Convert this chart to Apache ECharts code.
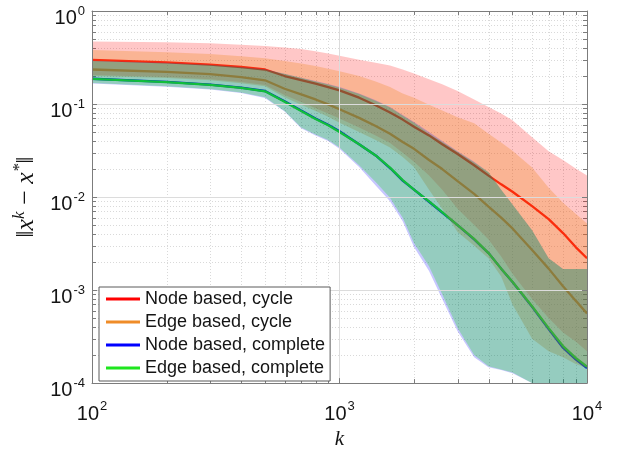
<!DOCTYPE html>
<html>
<head>
<meta charset="utf-8">
<script src="https://cdn.jsdelivr.net/npm/echarts@6/dist/echarts.min.js"></script>
<style>
  html, body { margin: 0; padding: 0; background: #fff; }
  #chart { width: 624px; height: 455px; }
</style>
</head>
<body>
<div id="chart"></div>
<script>
// iterations k (x axis)
const ks = [100, 200, 300, 400, 500, 600, 700, 800, 900, 1000, 1200, 1400, 1600, 1800, 2000, 2300, 2600, 3000, 3500, 4000, 4500, 5000, 6000, 7000, 8000, 9000, 10000];

// mean error curves
const nodeCycle    = [0.298, 0.28, 0.265, 0.25, 0.235, 0.2, 0.181, 0.166, 0.152, 0.14, 0.117, 0.097, 0.081, 0.068, 0.057, 0.046, 0.037, 0.029, 0.022, 0.017, 0.0137, 0.0114, 0.008, 0.0058, 0.0041, 0.0029, 0.0022];
const edgeCycle    = [0.235, 0.222, 0.21, 0.195, 0.18, 0.146, 0.127, 0.112, 0.099, 0.088, 0.071, 0.058, 0.048, 0.039, 0.033, 0.025, 0.02, 0.0148, 0.0108, 0.0079, 0.006, 0.0046, 0.0027, 0.0017, 0.0011, 0.00077, 0.00056];
const nodeComplete = [0.187, 0.173, 0.162, 0.15, 0.138, 0.107, 0.085, 0.07, 0.06, 0.051, 0.037, 0.028, 0.0205, 0.015, 0.012, 0.0089, 0.0068, 0.005, 0.0035, 0.0025, 0.0017, 0.00122, 0.00066, 0.00038, 0.00024, 0.00018, 0.000145];
const edgeComplete = [0.186, 0.172, 0.161, 0.149, 0.137, 0.106, 0.084, 0.069, 0.059, 0.05, 0.037, 0.028, 0.0207, 0.0152, 0.012, 0.009, 0.0069, 0.005, 0.00355, 0.0025, 0.0017, 0.00123, 0.00067, 0.00039, 0.00025, 0.000187, 0.00015];

// shaded ranges (low / high)
const nodeCycleLo    = [0.205, 0.195, 0.185, 0.173, 0.16, 0.125, 0.105, 0.09, 0.079, 0.07, 0.056, 0.046, 0.038, 0.03, 0.024, 0.017, 0.012, 0.0075, 0.005, 0.0035, 0.0023, 0.0015, 0.0008, 0.0005, 0.00035, 0.00028, 0.00022];
const nodeCycleHi    = [0.47, 0.46, 0.45, 0.435, 0.42, 0.405, 0.39, 0.37, 0.35, 0.33, 0.3, 0.278, 0.26, 0.235, 0.213, 0.185, 0.163, 0.138, 0.112, 0.093, 0.079, 0.067, 0.044, 0.031, 0.025, 0.0203, 0.017];
const edgeCycleLo    = [0.2, 0.19, 0.18, 0.167, 0.155, 0.118, 0.098, 0.084, 0.073, 0.063, 0.05, 0.041, 0.034, 0.027, 0.021, 0.012, 0.0075, 0.0042, 0.003, 0.0022, 0.0014, 0.0007, 0.0003, 0.00022, 0.00019, 0.00016, 0.000145];
const edgeCycleHi    = [0.38, 0.36, 0.345, 0.327, 0.31, 0.29, 0.272, 0.257, 0.24, 0.225, 0.2, 0.175, 0.152, 0.13, 0.117, 0.098, 0.085, 0.072, 0.062, 0.048, 0.0386, 0.0315, 0.0208, 0.0126, 0.0087, 0.0066, 0.0052];
const nodeCompleteLo = [0.166, 0.153, 0.143, 0.131, 0.116, 0.083, 0.055, 0.046, 0.04, 0.033, 0.021, 0.0133, 0.009, 0.0055, 0.0029, 0.0016, 0.0008, 0.00036, 0.00019, 0.000148, 0.000138, 0.000128, 0.0001, 0.00009, 0.000085, 0.00008, 0.00008];
const nodeCompleteHi = [0.292, 0.277, 0.264, 0.25, 0.237, 0.212, 0.192, 0.177, 0.164, 0.152, 0.13, 0.11, 0.093, 0.076, 0.064, 0.05, 0.04, 0.031, 0.024, 0.0185, 0.012, 0.0083, 0.0044, 0.0022, 0.00168, 0.00168, 0.00168];
const edgeCompleteLo = [0.168, 0.155, 0.145, 0.133, 0.118, 0.084, 0.056, 0.047, 0.041, 0.034, 0.022, 0.0145, 0.0098, 0.006, 0.0032, 0.0018, 0.0009, 0.00039, 0.0002, 0.000152, 0.00014, 0.00013, 0.0001, 0.00009, 0.000085, 0.00008, 0.00008];
const edgeCompleteHi = [0.29, 0.275, 0.262, 0.248, 0.235, 0.21, 0.19, 0.175, 0.162, 0.15, 0.128, 0.108, 0.092, 0.075, 0.063, 0.048, 0.039, 0.0305, 0.0235, 0.0185, 0.012, 0.0083, 0.0044, 0.0022, 0.00168, 0.00168, 0.00168];

// minor grid positions
const xMinor = [200, 300, 400, 500, 600, 700, 800, 900, 2000, 3000, 4000, 5000, 6000, 7000, 8000, 9000];
const yMinor = [2e-4, 3e-4, 4e-4, 5e-4, 6e-4, 7e-4, 8e-4, 9e-4, 2e-3, 3e-3, 4e-3, 5e-3, 6e-3, 7e-3, 8e-3, 9e-3,
                0.02, 0.03, 0.04, 0.05, 0.06, 0.07, 0.08, 0.09, 0.2, 0.3, 0.4, 0.5, 0.6, 0.7, 0.8, 0.9];

const SANS = 'Liberation Sans, Arial, Helvetica, sans-serif';
const SERIF = 'Liberation Serif, Times New Roman, serif';
const AXIS_COLOR = '#7c7c7c';
const TEXT_COLOR = '#141414';

const RED = '#ff0000', ORANGE = '#ef8c28', BLUE = '#0000ff', GREEN = '#1ee61e';

// flat bar legend icon (padded so it stays 3px thick inside a 34x20 box)
const LINE_ICON = 'path://M0,0L0.01,0M0,8.5L34,8.5L34,11.5L0,11.5ZM34,20L33.99,20';

const chart = echarts.init(document.getElementById('chart'));

const pow10 = v => '{b|10}{s|' + Math.round(Math.log10(v)) + '}';
const labelRich = {
    b: { fontSize: 20, fontFamily: SANS, color: TEXT_COLOR, lineHeight: 24, verticalAlign: 'bottom' },
    s: { fontSize: 13, fontFamily: SANS, color: TEXT_COLOR, lineHeight: 13, verticalAlign: 'top', padding: [0, 0, 0, 1] }
};

const pairs = (vals) => ks.map((k, i) => [k, vals[i]]);

function lineSeries(name, vals, color) {
    return {
        name: name,
        type: 'line',
        data: pairs(vals),
        symbol: 'none',
        z: 2,
        lineStyle: { width: 2.3, color: color },
        itemStyle: { color: color },
        clip: true
    };
}

function bandSeries(lo, hi, fill) {
    return {
        type: 'custom',
        silent: true,
        z: 3,
        data: ks.map((k, i) => [k, lo[i], hi[i]]),
        encode: { x: 0, y: [1, 2] },
        renderItem: function (params, api) {
            if (params.dataIndex !== 0) return;
            const pts = [];
            for (let i = 0; i < ks.length; i++) pts.push(api.coord([ks[i], hi[i]]));
            for (let i = ks.length - 1; i >= 0; i--) pts.push(api.coord([ks[i], lo[i]]));
            const cs = params.coordSys;
            return {
                type: 'polygon',
                shape: { points: pts },
                style: { fill: fill, stroke: null },
                clipPath: { type: 'rect', shape: { x: cs.x, y: cs.y, width: cs.width, height: cs.height } }
            };
        }
    };
}

// dotted minor grid + minor ticks on all four sides
const minorX = {
    type: 'custom', silent: true, z: 1,
    data: xMinor.map(v => [v, 0.01]),
    encode: { x: 0, y: 1 },
    renderItem: function (params, api) {
        const cs = params.coordSys;
        const x = Math.round(api.coord([api.value(0), 0.01])[0]) + 0.5;
        const top = cs.y, bot = cs.y + cs.height;
        return {
            type: 'group',
            children: [
                { type: 'line', shape: { x1: x, y1: top, x2: x, y2: bot }, style: { stroke: '#d9d9d9', lineWidth: 1, lineDash: [1, 2] } },
                { type: 'line', shape: { x1: x, y1: bot, x2: x, y2: bot - 4 }, style: { stroke: AXIS_COLOR, lineWidth: 1 } },
                { type: 'line', shape: { x1: x, y1: top, x2: x, y2: top + 4 }, style: { stroke: AXIS_COLOR, lineWidth: 1 } }
            ]
        };
    }
};

const minorY = {
    type: 'custom', silent: true, z: 1,
    data: yMinor.map(v => [1000, v]),
    encode: { x: 0, y: 1 },
    renderItem: function (params, api) {
        const cs = params.coordSys;
        const y = Math.round(api.coord([1000, api.value(1)])[1]) + 0.5;
        const left = cs.x, right = cs.x + cs.width;
        return {
            type: 'group',
            children: [
                { type: 'line', shape: { x1: left, y1: y, x2: right, y2: y }, style: { stroke: '#d9d9d9', lineWidth: 1, lineDash: [1, 2] } },
                { type: 'line', shape: { x1: left, y1: y, x2: left + 4, y2: y }, style: { stroke: AXIS_COLOR, lineWidth: 1 } },
                { type: 'line', shape: { x1: right, y1: y, x2: right - 4, y2: y }, style: { stroke: AXIS_COLOR, lineWidth: 1 } }
            ]
        };
    }
};

const baseAxis = {
    type: 'log',
    logBase: 10,
    axisLine: { show: true, lineStyle: { color: AXIS_COLOR, width: 1 } },
    axisTick: { show: true, inside: true, length: 5, lineStyle: { color: AXIS_COLOR } },
    z: 10
};

const legendNames = ['Node based, cycle', 'Edge based, cycle', 'Node based, complete', 'Edge based, complete'];

const option = {
    animation: false,
    backgroundColor: '#fff',
    grid: { left: 92, top: 11, right: 37, bottom: 66 },
    xAxis: [
        Object.assign({}, baseAxis, {
            position: 'bottom', min: 100, max: 10000,
            axisLabel: { formatter: pow10, rich: labelRich, margin: 17, showMinLabel: true, showMaxLabel: true },
            splitLine: { show: true, lineStyle: { color: '#dcdcdc', width: 1 } },
            name: 'k', nameLocation: 'middle', nameGap: 36,
            nameTextStyle: { fontFamily: SERIF, fontStyle: 'italic', fontSize: 21, color: TEXT_COLOR }
        }),
        Object.assign({}, baseAxis, {
            position: 'top', min: 100, max: 10000,
            axisLabel: { show: false }, splitLine: { show: false }
        })
    ],
    yAxis: [
        Object.assign({}, baseAxis, {
            position: 'left', min: 1e-4, max: 1,
            axisLabel: { formatter: pow10, rich: labelRich, margin: 7, padding: [11, 0, 0, 0], showMinLabel: true, showMaxLabel: true },
            splitLine: { show: true, lineStyle: { color: '#dcdcdc', width: 1 } },
            name: '{n|‖}{i|x}{s|k}{n| − }{i|x}{s|*}{n|‖}',
            nameLocation: 'middle', nameGap: 46, nameRotate: 90,
            nameTextStyle: {
                color: TEXT_COLOR,
                rich: {
                    n: { fontFamily: SERIF, fontSize: 26, color: TEXT_COLOR, lineHeight: 28, verticalAlign: 'bottom' },
                    i: { fontFamily: SERIF, fontStyle: 'italic', fontSize: 26, color: TEXT_COLOR, lineHeight: 28, verticalAlign: 'bottom' },
                    s: { fontFamily: SERIF, fontStyle: 'italic', fontSize: 17, color: TEXT_COLOR, lineHeight: 17, verticalAlign: 'top' }
                }
            }
        }),
        Object.assign({}, baseAxis, {
            position: 'right', min: 1e-4, max: 1,
            axisLabel: { show: false }, splitLine: { show: false }
        })
    ],
    legend: {
        orient: 'vertical',
        left: 99, top: 287,
        data: legendNames.map(n => ({ name: n, icon: LINE_ICON })),
        itemWidth: 34, itemHeight: 20, itemGap: 3,
        padding: [2, 5, 3, 7],
        backgroundColor: '#fff',
        borderColor: '#5a5a5a', borderWidth: 1, borderRadius: 0,
        textStyle: { fontFamily: SANS, fontSize: 18, color: TEXT_COLOR, lineHeight: 20 },
        selectedMode: false,
        z: 20
    },
    series: [
        minorX,
        minorY,
        lineSeries(legendNames[0], nodeCycle, RED),
        lineSeries(legendNames[1], edgeCycle, ORANGE),
        lineSeries(legendNames[2], nodeComplete, BLUE),
        lineSeries(legendNames[3], edgeComplete, GREEN),
        bandSeries(nodeCycleLo, nodeCycleHi, 'rgba(255,0,0,0.22)'),
        bandSeries(edgeCycleLo, edgeCycleHi, 'rgba(239,140,40,0.32)'),
        bandSeries(nodeCompleteLo, nodeCompleteHi, 'rgba(0,0,255,0.22)'),
        bandSeries(edgeCompleteLo, edgeCompleteHi, 'rgba(0,220,0,0.25)')
    ]
};

chart.setOption(option);

window.addEventListener('resize', () => {
    chart.resize();
});
</script>
</body>
</html>
